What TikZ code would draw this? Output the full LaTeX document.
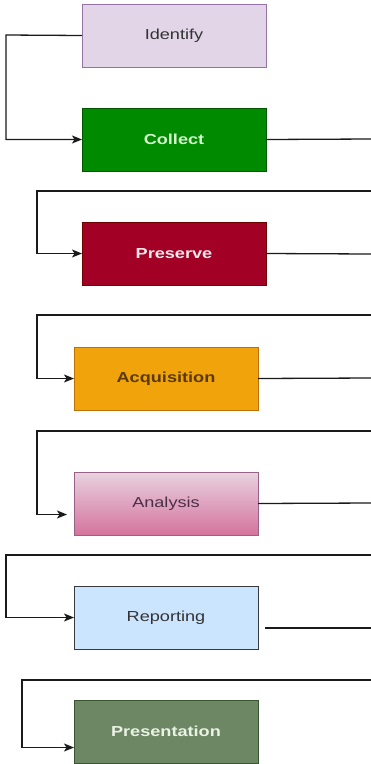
\documentclass[tikz,border=0pt]{standalone}
\usepackage{fontspec}
\setmainfont{Liberation Sans}
\usetikzlibrary{arrows.meta,calc}
\definecolor{idfill}{HTML}{E1D5E7}\definecolor{iddraw}{HTML}{9673A6}
\definecolor{cofill}{HTML}{008A00}\definecolor{codraw}{HTML}{005700}\definecolor{cotext}{HTML}{D6F5CF}
\definecolor{prfill}{HTML}{A20025}\definecolor{prdraw}{HTML}{6F0000}\definecolor{prtext}{HTML}{F8E8EC}
\definecolor{acfill}{HTML}{F0A30A}\definecolor{acdraw}{HTML}{BD7000}\definecolor{actext}{HTML}{5A3A00}
\definecolor{antop}{HTML}{E8D2E0}\definecolor{anbot}{HTML}{D5739D}\definecolor{andraw}{HTML}{996185}\definecolor{antext}{HTML}{4A3046}
\definecolor{refill}{HTML}{CCE5FF}\definecolor{redraw}{HTML}{36393D}
\definecolor{psfill}{HTML}{6D8764}\definecolor{psdraw}{HTML}{3A5431}\definecolor{pstext}{HTML}{EAF2E4}
\definecolor{lin}{HTML}{1A1A1A}
\tikzset{
  box/.style={rectangle, anchor=north west, minimum width=184pt, minimum height=63pt, inner sep=0pt, outer sep=0pt, line width=1pt, font=\fontsize{14.5}{16}\selectfont},
  conn/.style={draw=lin, line width=1.3pt},
  arr/.style={conn, -{Stealth[length=10pt,width=8pt,inset=2.5pt]}}
}
\newcommand{\wide}[1]{\scalebox{1.25}[1]{#1}}
\begin{document}
\begin{tikzpicture}[x=1pt,y=-1pt]
\useasboundingbox (0,0) rectangle (371,764);
\fill[white] (0,0) rectangle (371,764);
% boxes
\node[box, fill=idfill, draw=iddraw, text=black!80] (id) at (82,4) {\wide{Identify}};
\node[box, fill=cofill, draw=codraw, text=cotext] (co) at (82,108) {\wide{\bfseries Collect}};
\node[box, fill=prfill, draw=prdraw, text=prtext] (pr) at (82,222) {\wide{\bfseries Preserve}};
\node[box, fill=acfill, draw=acdraw, text=actext] (ac) at (74,347) {\wide{\bfseries Acquisition}};
\node[box, top color=antop, bottom color=anbot, draw=andraw, text=antext] (an) at (74,472) {\wide{Analysis}};
\node[box, fill=refill, draw=redraw, text=black!80] (re) at (74,586) {\wide{Reporting}};
\node[box, fill=psfill, draw=psdraw, text=pstext] (ps) at (74,700) {\wide{\bfseries Presentation}};
% coordinates
\coordinate (k1) at (6,35);
\coordinate (r1) at (371,139);
\coordinate (c2) at (371,191); \coordinate (k2) at (37,191);
\coordinate (r2) at (371,254);
\coordinate (c3) at (371,315); \coordinate (k3) at (37,315);
\coordinate (r3) at (371,378);
\coordinate (c4) at (371,431); \coordinate (k4) at (37,431);
\coordinate (r4) at (371,503);
\coordinate (c5) at (371,555); \coordinate (k5) at (6,555);
\coordinate (r5) at (371,628);
\coordinate (c6) at (371,680); \coordinate (k6) at (22,680);
% connectors
\draw[arr] (id.west) -- (k1) |- (co.west);
\draw[conn] (co.east) -- (r1);
\draw[arr] (c2) -- (k2) |- (pr.west);
\draw[conn] (pr.east) -- (r2);
\draw[arr] (c3) -- (k3) |- (ac.west);
\draw[conn] (ac.east) -- (r3);
\draw[arr] (c4) -- (k4) |- ([xshift=-7pt,yshift=-11pt]an.west);
\draw[conn] (an.east) -- (r4);
\draw[arr] (c5) -- (k5) |- (re.west);
\draw[conn] ([xshift=7pt,yshift=-10.5pt]re.east) -- (r5);
\draw[arr] (c6) -- (k6) |- ([yshift=-16pt]ps.west);
\end{tikzpicture}
\end{document}
